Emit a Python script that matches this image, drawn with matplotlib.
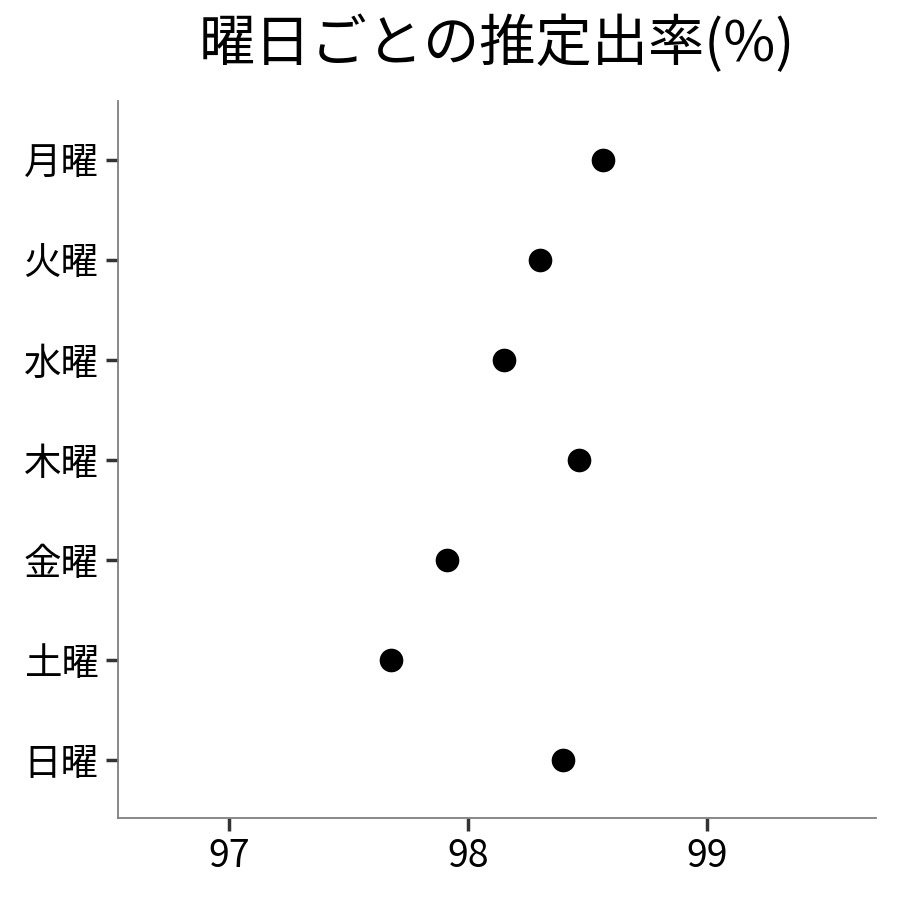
import matplotlib
matplotlib.use("Agg")
import matplotlib.pyplot as plt

plt.rcParams['font.family'] = ['Noto Sans CJK JP', 'DejaVu Sans']

days = ["月曜", "火曜", "水曜", "木曜", "金曜", "土曜", "日曜"]
rates = [98.565, 98.30, 98.15, 98.465, 97.912, 97.678, 98.397]
x_ticks = [97, 98, 99]
title = "曜日ごとの推定出率(%)"

fig = plt.figure(figsize=(9, 9), dpi=100)
ax = fig.add_axes([118/900, 1-818/900, (876-118)/900, (818-101)/900])

ypos = list(range(len(days)))[::-1]
ax.scatter(rates, ypos, s=290, color='black', zorder=3, linewidths=0)

ax.set_xlim(96.536, 99.707)
ax.set_ylim(-0.58, 6.59)
ax.set_yticks(ypos)
ax.set_yticklabels(days)
ax.set_xticks(x_ticks)
ax.set_xticklabels([str(t) for t in x_ticks])

for s in ['top', 'right']:
    ax.spines[s].set_visible(False)
for s in ['left', 'bottom']:
    ax.spines[s].set_color('#7f7f7f')
    ax.spines[s].set_linewidth(1.3)

ax.tick_params(axis='both', length=9, width=2.5, color='#333333', pad=5, labelcolor='black')
for lbl in ax.get_yticklabels() + ax.get_xticklabels():
    lbl.set_fontsize(27)

fig.text((118+876)/2/900, 1-45/900, title, ha='center', va='center', fontsize=40.5)

fig.savefig("out.png", dpi=100)
